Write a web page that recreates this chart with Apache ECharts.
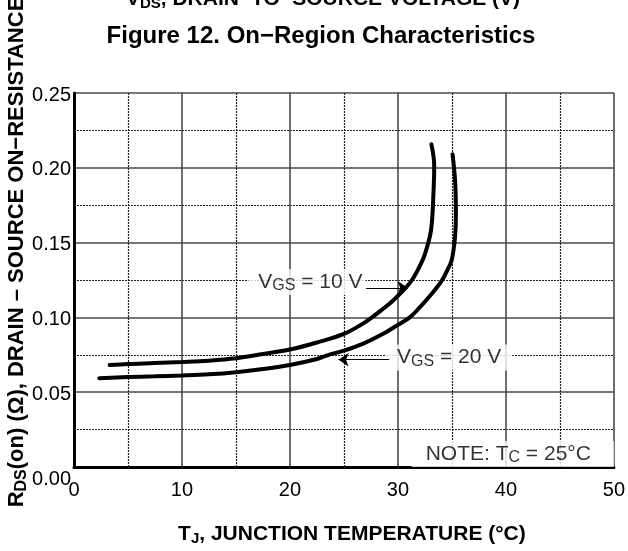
<!DOCTYPE html>
<html>
<head>
<meta charset="utf-8">
<script src="https://cdn.jsdelivr.net/npm/echarts@6/dist/echarts.min.js"></script>
<style>
html,body{margin:0;padding:0;background:#fff;}
#chart{width:628px;height:551px;}
</style>
</head>
<body>
<div id="chart"></div>
<script>
// ---- data ----
const xTickValues = [0, 10, 20, 30, 40, 50];
const yTickValues = [0.00, 0.05, 0.10, 0.15, 0.20, 0.25];

const vgs10T = [3.3, 5, 7.5, 10, 12.5, 15, 17.5, 20, 22.5, 25, 26.8, 27.6, 28.5, 29.5, 30.5, 31.3, 32.0, 32.5, 33.06, 33.27, 33.36, 33.1];
const vgs10R = [0.0682, 0.0689, 0.0695, 0.0702, 0.0711, 0.0727, 0.0755, 0.0785, 0.0832, 0.0890, 0.0960, 0.1000, 0.1050, 0.1110, 0.1180, 0.1250, 0.1340, 0.1423, 0.1580, 0.1796, 0.2015, 0.2158];

const vgs20T = [2.35, 5, 7.5, 10, 12.5, 15, 17.5, 20, 22.5, 23.6, 25, 26.8, 28.5, 30, 31.1, 32.0, 32.9, 33.6, 34.1, 34.6, 34.97, 35.28, 35.37, 35.3, 35.06];
const vgs20R = [0.0594, 0.0601, 0.0606, 0.0612, 0.0620, 0.0634, 0.0655, 0.0682, 0.0722, 0.0750, 0.0778, 0.0825, 0.0885, 0.0950, 0.1000, 0.1065, 0.1138, 0.1200, 0.1250, 0.1320, 0.1380, 0.1530, 0.1686, 0.1906, 0.2090];

const titleText = 'Figure 12. On\u2212Region Characteristics';

// ---- build ----
const zip = (a, b) => a.map((v, i) => [v, b[i]]);
const FONT = 'Liberation Sans, Arial, Helvetica, sans-serif';

const chart = echarts.init(document.getElementById('chart'), null, {renderer: 'canvas'});

const labelRich = {
  m: {fontSize: 21, fontFamily: FONT, color: '#000', lineHeight: 24},
  s: {fontSize: 16, fontFamily: FONT, color: '#000', lineHeight: 11, verticalAlign: 'bottom'}
};
const boldRich = (size) => ({
  m: {fontSize: size, fontFamily: FONT, fontWeight: 'bold', color: '#000', lineHeight: size + 3},
  s: {fontSize: Math.round(size * 0.72), fontFamily: FONT, fontWeight: 'bold', color: '#000', lineHeight: 8, verticalAlign: 'bottom'}
});

const arrowLine = (from, to) => [{coord: from}, {coord: to}];

const option = {
  animation: false,
  backgroundColor: '#fff',
  grid: {left: 74, right: 14, top: 93, bottom: 78, containLabel: false},
  xAxis: {
    type: 'value', min: 0, max: 50, interval: 10,
    name: '{m|T}{s|J}{m|, JUNCTION TEMPERATURE (°C)}',
    nameLocation: 'middle', nameGap: 55,
    nameTextStyle: {rich: boldRich(21), padding: [0, 0, 0, 16]},
    axisLine: {show: true, onZero: false, lineStyle: {color: '#000', width: 3}},
    axisTick: {show: false},
    axisLabel: {fontSize: 20, fontFamily: FONT, color: '#000', margin: 13,
      formatter: v => xTickValues.includes(v) ? String(v) : ''},
    splitLine: {show: true, lineStyle: {color: '#4a4a4a', width: 1.6}},
    minorTick: {show: false, splitNumber: 2},
    minorSplitLine: {show: true, lineStyle: {color: '#222', width: 1.2, type: [2, 1]}}
  },
  yAxis: {
    type: 'value', min: 0, max: 0.25, interval: 0.05,
    axisLine: {show: true, onZero: false, lineStyle: {color: '#000', width: 3}},
    axisTick: {show: false},
    axisLabel: {fontSize: 20, fontFamily: FONT, color: '#000', margin: 3,
      formatter: v => {
        if (!yTickValues.some(t => Math.abs(t - v) < 1e-9)) return '';
        return v === 0 ? '{low|' + v.toFixed(2) + '}' : '{n|' + v.toFixed(2) + '}';
      },
      rich: {
        n: {fontSize: 20, fontFamily: FONT, color: '#000', padding: [4, 0, 0, 0]},
        low: {fontSize: 20, fontFamily: FONT, color: '#000', padding: [24, 0, 0, 0]}
      }
    },
    splitLine: {show: true, lineStyle: {color: '#4a4a4a', width: 1.6}},
    minorTick: {show: false, splitNumber: 2},
    minorSplitLine: {show: true, lineStyle: {color: '#222', width: 1.2, type: [2, 1]}}
  },
  graphic: [
    {type: 'text', x: 321, y: 36, z: 10,
      style: {text: titleText, font: 'bold 24px ' + FONT, fill: '#000', align: 'center', verticalAlign: 'middle'}},
    {type: 'text', x: 323, y: -1, z: 10,
      style: {text: '{m|V}{s|DS}{m|, DRAIN\u2212TO\u2212SOURCE VOLTAGE (V)}', rich: boldRich(21),
        align: 'center', verticalAlign: 'middle'}},
    {type: 'text', x: 17, y: 252, rotation: Math.PI / 2, z: 10,
      style: {text: '{m|R}{s|DS}{m|(on) (\u03A9), DRAIN \u2013 SOURCE ON\u2212RESISTANCE}', rich: boldRich(22),
        align: 'center', verticalAlign: 'middle'}}
  ],
  series: [
    {
      name: 'annotations', type: 'scatter', z: 3, silent: true, symbolSize: 0,
      data: [
        {value: [27.0, 0.1237], label: {formatter: '{m|V}{s|GS}{m| = 10 V}', padding: [1, 3, 1, 10]}},
        {value: [28.8, 0.0732], label: {align: 'left', formatter: '{m|V}{s|GS}{m| = 20 V}', padding: [1, 11, 1, 12]}},
        {value: [50, 0], label: {verticalAlign: 'bottom', formatter: '{m|NOTE: T}{s|C}{m| = 25°C}', padding: [1, 23, 1, 14]}}
      ],
      label: {show: true, position: 'inside', align: 'right', verticalAlign: 'middle',
        backgroundColor: '#fff', rich: labelRich},
      emphasis: {disabled: true}
    },
    {
      name: 'VGS = 10 V', type: 'line', z: 4, data: zip(vgs10T, vgs10R),
      showSymbol: false, smooth: 0.35, silent: true,
      lineStyle: {color: '#000', width: 4, cap: 'round'},
      emphasis: {disabled: true},
      markLine: {
        silent: true, symbol: ['none', 'arrow'], symbolSize: 10,
        lineStyle: {color: '#000', width: 1, type: 'solid'},
        label: {show: false},
        data: [arrowLine([27.05, 0.1198], [30.9, 0.1198])]
      }
    },
    {
      name: 'VGS = 20 V', type: 'line', z: 4, data: zip(vgs20T, vgs20R),
      showSymbol: false, smooth: 0.35, silent: true,
      lineStyle: {color: '#000', width: 4, cap: 'round'},
      emphasis: {disabled: true},
      markLine: {
        silent: true, symbol: ['none', 'arrow'], symbolSize: 10,
        lineStyle: {color: '#000', width: 1, type: 'solid'},
        label: {show: false},
        data: [arrowLine([29.2, 0.0717], [24.5, 0.0717])]
      }
    }
  ]
};
chart.setOption(option);
</script>
</body>
</html>
